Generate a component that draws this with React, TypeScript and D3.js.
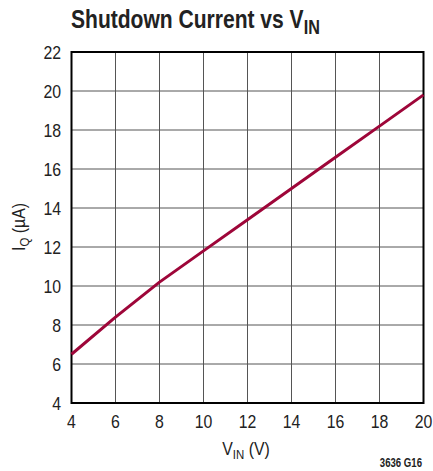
import React from "react";
import * as d3 from "d3";

const vin = [4, 6, 8, 10, 12, 14, 16, 18, 20];
const iq = [6.5, 8.4, 10.2, 11.8, 13.4, 15.0, 16.6, 18.2, 19.8];
const xTicks = [4, 6, 8, 10, 12, 14, 16, 18, 20];
const yTicks = [4, 6, 8, 10, 12, 14, 16, 18, 20, 22];

const FONT = "'Liberation Sans', Arial, sans-serif";
const INK = "#222";

// condensed look: squeeze text horizontally around its anchor point
const Txt: React.FC<{
  x: number;
  y: number;
  sx?: number;
  rot?: number;
  anchor?: string;
  size: number;
  weight?: string;
  children: React.ReactNode;
}> = ({ x, y, sx = 0.84, rot = 0, anchor = "start", size, weight = "normal", children }) => (
  <text
    transform={`translate(${x},${y}) rotate(${rot}) scale(${sx},1)`}
    textAnchor={anchor}
    fontFamily={FONT}
    fontSize={size}
    fontWeight={weight}
    fill={INK}
  >
    {children}
  </text>
);

const App: React.FC = () => {
  const width = 433;
  const height = 471;
  const left = 71.5;
  const right = 423.5;
  const top = 52;
  const bottom = 403;

  const x = d3.scaleLinear().domain([4, 20]).range([left, right]);
  const y = d3.scaleLinear().domain([4, 22]).range([bottom, top]);

  const line = d3
    .line<number>()
    .x((_, i) => x(vin[i]))
    .y((d) => y(d));

  return (
    <svg
      width={width}
      height={height}
      style={{ position: "absolute", left: 0, top: 0, background: "#fff" }}
    >
      {/* title */}
      <Txt x={71} y={28} size={26} weight="bold" sx={0.81}>
        Shutdown Current vs V
        <tspan fontSize={20} dy={6}>IN</tspan>
      </Txt>

      {/* grid */}
      {xTicks.map((t) => (
        <line key={"gx" + t} x1={x(t)} x2={x(t)} y1={top} y2={bottom} stroke="#555" strokeWidth={1} />
      ))}
      {yTicks.map((t) => (
        <line key={"gy" + t} x1={left} x2={right} y1={y(t)} y2={y(t)} stroke="#555" strokeWidth={1} />
      ))}
      <rect x={left} y={top} width={right - left} height={bottom - top} fill="none" stroke="#000" strokeWidth={2} />

      {/* data */}
      <path d={line(iq) ?? ""} fill="none" stroke="#9e0639" strokeWidth={3} strokeLinejoin="round" />

      {/* tick labels */}
      {yTicks.map((t) => (
        <Txt key={"yl" + t} x={61} y={y(t) + 6.5} anchor="end" size={18} sx={0.88}>
          {t}
        </Txt>
      ))}
      {xTicks.map((t) => (
        <Txt key={"xl" + t} x={x(t)} y={428} anchor="middle" size={18} sx={0.88}>
          {t}
        </Txt>
      ))}

      {/* axis titles */}
      <Txt x={246} y={455} anchor="middle" size={18} sx={0.88}>
        V<tspan fontSize={13} dy={4}>IN</tspan>
        <tspan dy={-4}> (V)</tspan>
      </Txt>
      <Txt x={25} y={227} rot={-90} anchor="middle" size={18} sx={0.88}>
        I<tspan fontSize={13} dy={4}>Q</tspan>
        <tspan dy={-4}> (µA)</tspan>
      </Txt>

      <Txt x={422} y={467} anchor="end" size={12} weight="bold" sx={0.8}>
        3636 G16
      </Txt>
    </svg>
  );
};

export default App;
